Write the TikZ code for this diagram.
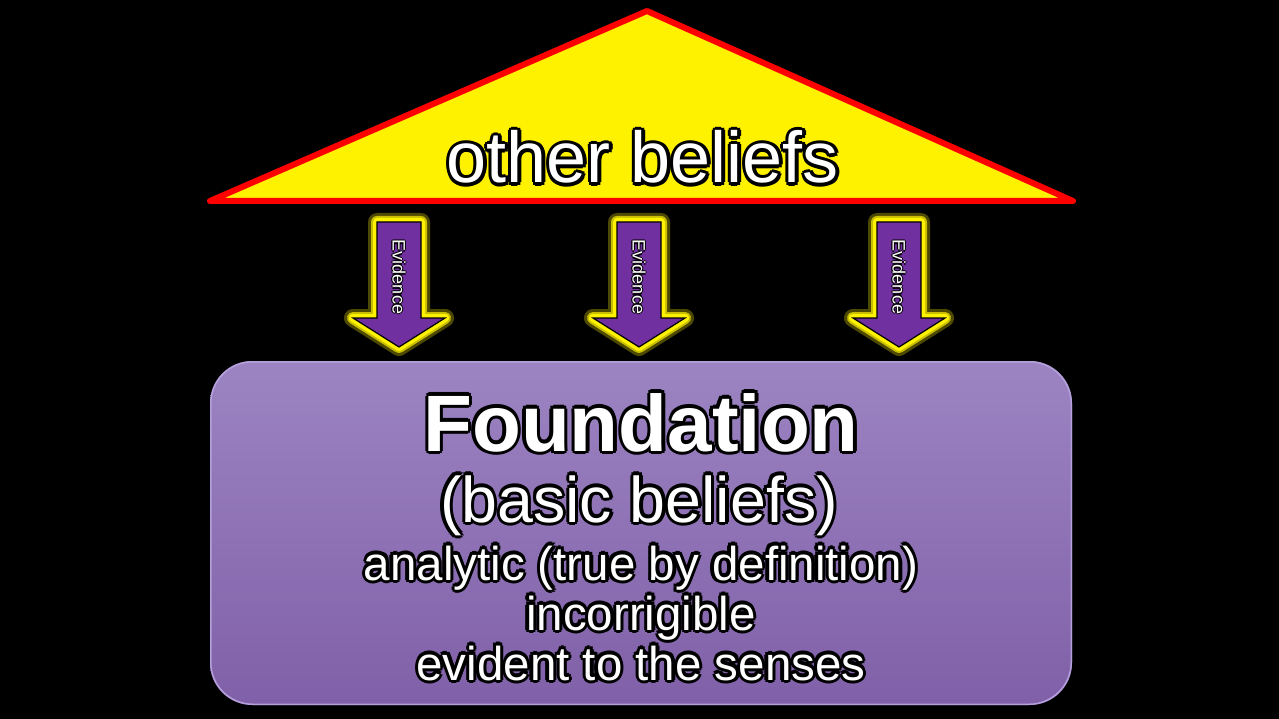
\documentclass[tikz,border=0pt]{standalone}
\usepackage{fontspec}
\setmainfont{Liberation Sans}
\usetikzlibrary{calc}
\definecolor{arrowpurple}{RGB}{112,48,160}
\definecolor{boxtop}{RGB}{156,132,194}
\definecolor{boxbot}{RGB}{128,96,168}
\definecolor{boxedge}{RGB}{180,160,218}
\tikzset{
  glowtxt/.style={text=white, inner sep=0pt, anchor=base},
  shadowtxt/.style={text=black, inner sep=0pt, anchor=base},
  arrowglow/.style={draw=yellow, line width=#1, line join=round},
  arrowbody/.style={fill=arrowpurple, draw=black, line width=1.2, line join=miter},
}
\newcommand\glowlabel[5]{% name, x, y, font, text
  \foreach \a in {0,45,...,315} {
    \node[shadowtxt, font=#4] at ($(#2,#3)+(\a:3.2)$) {#5};
  }
  \node[glowtxt, font=#4] (#1) at (#2,#3) {#5};
}
\newcommand\evarrow[2]{% name, center x
  \path[arrowglow=18, draw opacity=0.3] (#2-22,222) -- (#2+22,222) -- (#2+22,318) -- (#2+46,318) -- (#2,347) -- (#2-46,318) -- (#2-22,318) -- cycle;
  \path[arrowglow=12, draw opacity=0.7] (#2-22,222) -- (#2+22,222) -- (#2+22,318) -- (#2+46,318) -- (#2,347) -- (#2-46,318) -- (#2-22,318) -- cycle;
  \path[arrowglow=8] (#2-22,222) -- (#2+22,222) -- (#2+22,318) -- (#2+46,318) -- (#2,347) -- (#2-46,318) -- (#2-22,318) -- cycle;
  \path[arrowbody] (#2-22,222) -- (#2+22,222) -- (#2+22,318) -- (#2+46,318) -- (#2,347) -- (#2-46,318) -- (#2-22,318) -- cycle;
  \foreach \a in {0,90,180,270} {
    \node[text=black, inner sep=0pt, rotate=-90, font=\fontsize{18}{18}\selectfont] at ($(#2,277)+(\a:1.1)$) {Evidence};
  }
  \node[text=white, inner sep=0pt, rotate=-90, font=\fontsize{18}{18}\selectfont] (#1) at (#2,277) {Evidence};
}
\begin{document}
\begin{tikzpicture}[x=1pt,y=-1pt]
\fill[black] (0,0) rectangle (1279,719);
\path[use as bounding box] (0,0) rectangle (1279,719);
% roof
\draw[red, line width=6, fill=yellow, line join=round] (210,201) -- (647,11) -- (1073,201) -- cycle;
\glowlabel{other}{643}{183}{\fontsize{72}{72}\selectfont}{other beliefs}
% foundation box
\shade[top color=boxtop, bottom color=boxbot, rounded corners=42] (210,361) rectangle (1072,705);
\draw[boxedge, line width=1.5, rounded corners=42] (210.75,361.75) rectangle (1071.25,704.25);
% arrows
\evarrow{ev1}{399}
\evarrow{ev2}{639}
\evarrow{ev3}{899}
% box texts
\glowlabel{t1}{641}{451}{\bfseries\fontsize{80}{80}\selectfont}{Foundation}
\glowlabel{t2}{639}{522}{\fontsize{64.5}{64.5}\selectfont}{(basic beliefs)}
\glowlabel{t3}{641}{580}{\fontsize{47.5}{47.5}\selectfont}{analytic (true by definition)}
\glowlabel{t4}{641}{630}{\fontsize{47.5}{47.5}\selectfont}{incorrigible}
\glowlabel{t5}{641}{680}{\fontsize{47.5}{47.5}\selectfont}{evident to the senses}
\end{tikzpicture}
\end{document}
